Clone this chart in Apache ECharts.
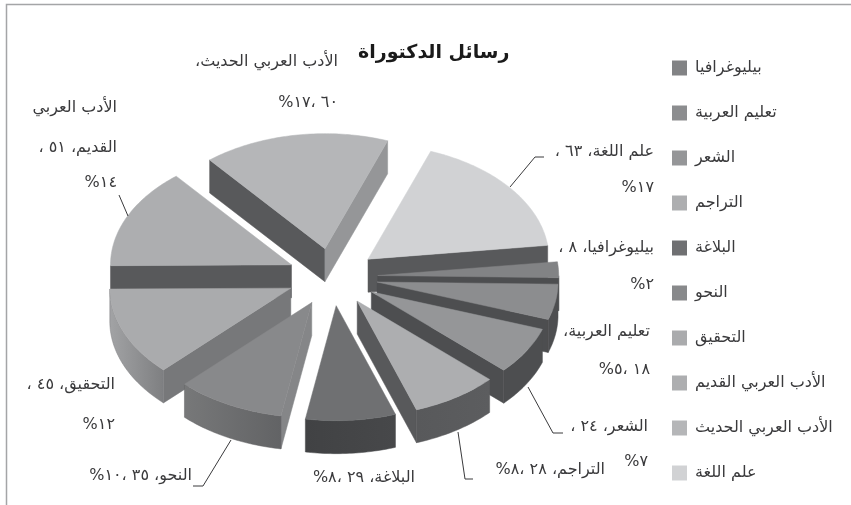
<!DOCTYPE html>
<html>
<head>
<meta charset="utf-8">
<style>
  html, body { margin: 0; padding: 0; background: #fff; }
  #chart { width: 851px; height: 505px; }
</style>
<script src="https://cdn.jsdelivr.net/npm/echarts@6/dist/echarts.min.js"></script>
</head>
<body>
<div id="chart" dir="rtl"></div>
<script>
// clockwise from the first slice, same order as the legend
var categories = ['بيليوغرافيا', 'تعليم العربية', 'الشعر', 'التراجم', 'البلاغة', 'النحو', 'التحقيق', 'الأدب العربي القديم', 'الأدب العربي الحديث', 'علم اللغة'];
var values = [8, 18, 24, 28, 29, 35, 45, 51, 60, 63];
var percents = [2, 5, 7, 8, 8, 10, 12, 14, 17, 17];

var topColors = ['#828385', '#8c8d8f', '#959698', '#adaeb0', '#6f7072', '#88898b', '#aaabad', '#adaeb0', '#b5b6b8', '#d1d2d4'];
// outer wall, left and right end of the gradient
var rimColors = [['#4d4e50', '#4d4e50'], ['#4d4e50', '#4d4e50'], ['#4d4e50', '#4d4e50'], ['#58595b', '#5c5d5f'], ['#414244', '#47484a'],
    ['#777879', '#626365'], ['#a2a3a5', '#7e7f81'], ['#97989a', '#97989a'], ['#97989a', '#97989a'], ['#97989a', '#97989a']];
var startFaceColors = ['#58595b', '#58595b', '#58595b', '#58595b', '#58595b', '#858688', '#77787a', '#58595b', '#58595b', '#58595b'];
var endFaceColors = ['#4d4e50', '#4d4e50', '#4d4e50', '#58595b', '#58595b', '#58595b', '#58595b', '#58595b', '#959698', '#58595b'];

var toHindi = function (n) {
    return String(n).replace(/\d/g, function (d) { return '٠١٢٣٤٥٦٧٨٩'[d]; });
};
var val = values.map(toHindi);
var pct = percents.map(function (p) { return toHindi(p) + '%'; });

// text lines per slice
var labelLines = [
    [categories[0] + '، ' + val[0] + ' ،', pct[0]],
    ['تعليم العربية،', val[1] + ' ،' + pct[1]],
    [categories[2] + '، ' + val[2] + ' ،', pct[2]],
    [categories[3] + '، ' + val[3] + ' ،' + pct[3]],
    [categories[4] + '، ' + val[4] + ' ،' + pct[4]],
    [categories[5] + '، ' + val[5] + ' ،' + pct[5]],
    [categories[6] + '، ' + val[6] + ' ،', pct[6]],
    ['الأدب العربي', 'القديم، ' + val[7] + ' ،', pct[7]],
    ['الأدب العربي الحديث،', val[8] + ' ،' + pct[8]],
    [categories[9] + '، ' + val[9] + ' ،', pct[9]]
];

// layout: right edge and y centre of each text line
var labelAnchors = [
    [654, [248, 285]], [650, [332, 370]], [648, [427, 462]], [605, [470]], [415, [478]],
    [192, [476]], [115, [385, 425]], [117, [108, 148, 183]], [338, [62, 103]], [654, [152, 188]]
];
var leaderLines = [
    [[510, 187], [535, 157], [544, 157]],
    [[128, 216], [119, 195]],
    [[231, 440], [203, 486], [193, 486]],
    [[458, 432], [465, 479], [473, 479]],
    [[528, 387], [553, 433], [563, 433]]
];

var cx = 332.5, cy = 277, rx = 181, ry = 115, depth = 33, explode = 0.25, firstAngle = 6.9;
var total = values.reduce(function (a, b) { return a + b; }, 0);

var rad = Math.PI / 180;
var angles = [];
values.reduce(function (a, v) {
    var next = a - v / total * 360;
    angles.push([a, next]);
    return next;
}, firstAngle);

function renderSlice(params, api) {
    var i = api.value(0);
    var a1 = angles[i][0], a2 = angles[i][1];
    var mid = (a1 + a2) / 2 * rad;
    var tx = cx + explode * rx * Math.cos(mid);
    var ty = cy - explode * ry * Math.sin(mid);
    var pt = function (a, dz) {
        return [tx + rx * Math.cos(a * rad), ty - ry * Math.sin(a * rad) + (dz || 0)];
    };
    var arc = [];
    for (var a = a1; a >= a2; a -= 1) arc.push(pt(a));
    arc.push(pt(a2));

    var children = [];
    var poly = function (points, fill) {
        var edge = typeof fill === 'string' ? fill : fill.colorStops[1].color;
        children.push({ type: 'polygon', shape: { points: points }, style: { fill: fill, stroke: edge, lineWidth: 0.5 } });
    };
    // radial walls, only the ones turned to the viewer
    if (Math.cos(a1 * rad) < 0) {
        poly([[tx, ty], pt(a1), pt(a1, depth), [tx, ty + depth]], startFaceColors[i]);
    }
    if (Math.sin((a2 - 90) * rad) < 0) {
        poly([[tx, ty], pt(a2), pt(a2, depth), [tx, ty + depth]], endFaceColors[i]);
    }
    // outer wall, lower half of the ellipse only
    var rim = [];
    for (a = a1; a >= a2; a -= 1) {
        if (Math.sin(a * rad) <= 0) rim.push(a);
    }
    if (Math.sin(a2 * rad) <= 0) rim.push(a2);
    if (rim.length > 1) {
        var upper = rim.map(function (x) { return pt(x); });
        var lower = rim.map(function (x) { return pt(x, depth); }).reverse();
        poly(upper.concat(lower), new echarts.graphic.LinearGradient(0, 0, 1, 0, [
            { offset: 0, color: rimColors[i][0] },
            { offset: 1, color: rimColors[i][1] }
        ]));
    }
    poly([[tx, ty]].concat(arc), topColors[i]);
    return { type: 'group', children: children };
}

// back slices first
var drawOrder = values.map(function (v, i) { return i; }).sort(function (p, q) {
    return Math.sin((angles[q][0] + angles[q][1]) / 2 * rad) - Math.sin((angles[p][0] + angles[p][1]) / 2 * rad);
});

var series = categories.map(function (name, i) {
    return {
        name: name,
        type: 'custom',
        coordinateSystem: 'none',
        silent: true,
        animation: false,
        z: 2 + drawOrder.indexOf(i),
        itemStyle: { color: topColors[i] },
        renderItem: renderSlice,
        data: [[i, values[i]]]
    };
});

var graphics = [{
    type: 'rect', z: 1, silent: true,
    shape: { x: 6.5, y: 4.5, width: 900, height: 600 },
    style: { fill: 'none', stroke: '#a4a5a7', lineWidth: 1.5 }
}];
labelLines.forEach(function (lines, i) {
    lines.forEach(function (line, j) {
        graphics.push({
            type: 'text', z: 50, silent: true,
            style: {
                x: labelAnchors[i][0], y: labelAnchors[i][1][j], text: line,
                align: 'right', verticalAlign: 'middle',
                font: '16px "DejaVu Sans"', fill: '#3a3a3c'
            }
        });
    });
});
leaderLines.forEach(function (points) {
    graphics.push({
        type: 'polyline', z: 50, silent: true,
        shape: { points: points },
        style: { fill: 'none', stroke: '#3a3a3c', lineWidth: 1 }
    });
});

var myChart = echarts.init(document.getElementById('chart'));
myChart.setOption({
    backgroundColor: '#fff',
    animation: false,
    title: {
        text: 'رسائل الدكتوراة',
        left: 353, top: 39,
        textStyle: { fontFamily: 'DejaVu Sans', fontSize: 19, fontWeight: 'bold', color: '#1a1a1a' }
    },
    legend: {
        orient: 'vertical',
        left: 672, top: 60,
        padding: 0,
        itemWidth: 15, itemHeight: 15,
        itemGap: 29,
        icon: 'rect',
        selectedMode: false,
        data: categories,
        textStyle: { fontFamily: 'DejaVu Sans', fontSize: 16, color: '#3a3a3c', padding: [0, 0, 0, 3] }
    },
    graphic: graphics,
    series: series
});
</script>
</body>
</html>
